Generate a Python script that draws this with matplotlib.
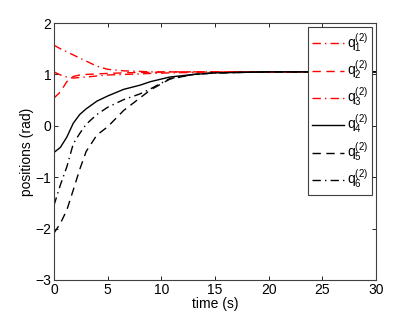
import matplotlib
matplotlib.use("Agg")
import matplotlib.pyplot as plt

plt.rcParams['font.family'] = ['Liberation Sans', 'DejaVu Sans']
plt.rcParams['mathtext.fontset'] = 'custom'
plt.rcParams['mathtext.rm'] = 'Liberation Sans'

t = [0, 0.6, 1.2, 1.8, 2.4, 3.0, 4.0, 5.0, 6.5, 8.0, 9.0, 10.8, 13.0, 15.0, 20.0, 25.0, 30.0]
q1 = [1.57, 1.50, 1.44, 1.38, 1.32, 1.26, 1.16, 1.10, 1.07, 1.06, 1.05, 1.05, 1.05, 1.05, 1.05, 1.05, 1.05]
q2 = [0.54, 0.66, 0.86, 0.96, 0.99, 1.00, 1.01, 1.02, 1.03, 1.04, 1.04, 1.05, 1.05, 1.05, 1.05, 1.05, 1.05]
q3 = [1.05, 0.99, 0.95, 0.93, 0.94, 0.95, 0.97, 0.99, 1.00, 1.01, 1.02, 1.03, 1.04, 1.05, 1.05, 1.05, 1.05]
q4 = [-0.52, -0.42, -0.22, 0.05, 0.22, 0.33, 0.48, 0.58, 0.71, 0.79, 0.86, 0.95, 1.00, 1.03, 1.05, 1.05, 1.05]
q5 = [-2.09, -1.90, -1.64, -1.25, -0.85, -0.50, -0.18, -0.02, 0.30, 0.54, 0.70, 0.91, 1.00, 1.03, 1.05, 1.05, 1.05]
q6 = [-1.55, -1.15, -0.80, -0.35, -0.15, 0.03, 0.22, 0.36, 0.51, 0.62, 0.72, 0.92, 1.00, 1.03, 1.05, 1.05, 1.05]

series = [q1, q2, q3, q4, q5, q6]
labels = [r'$\mathrm{q}_{%d}^{(2)}$' % i for i in range(1, 7)]
colors = ['red', 'red', 'red', 'black', 'black', 'black']
styles = [(0, (6, 3, 1, 3)), (0, (6, 4)), (0, (6, 3, 1, 3)), '-', (0, (6, 4)), (0, (6, 3, 1, 3))]

fig = plt.figure(figsize=(4.15, 3.12), dpi=100)
ax = fig.add_axes([0.130, 0.103, 0.776, 0.823])
for y, lab, c, ls in zip(series, labels, colors, styles):
    ax.plot(t, y, color=c, linestyle=ls, linewidth=1.0, label=lab)

ax.set_xlim(0, 30)
ax.set_ylim(-3, 2)
ax.set_xticks(range(0, 31, 5))
ax.set_yticks(range(-3, 3))
ax.tick_params(direction='in', top=True, right=True, labelsize=10, length=3, width=0.6, pad=2)
for s in ax.spines.values():
    s.set_linewidth(0.8)
    s.set_color('#404040')
ax.set_xlabel('time (s)', fontsize=10, labelpad=0)
ax.set_ylabel('positions (rad)', fontsize=10, labelpad=1)

leg = ax.legend(loc='upper right', fontsize=10, frameon=True, fancybox=False,
                edgecolor='#404040', framealpha=1, handlelength=2.3,
                labelspacing=0.3, borderaxespad=0.3, handletextpad=0.2,
                borderpad=0.3)
leg.get_frame().set_linewidth(0.8)

fig.savefig('out.png', dpi=100)
